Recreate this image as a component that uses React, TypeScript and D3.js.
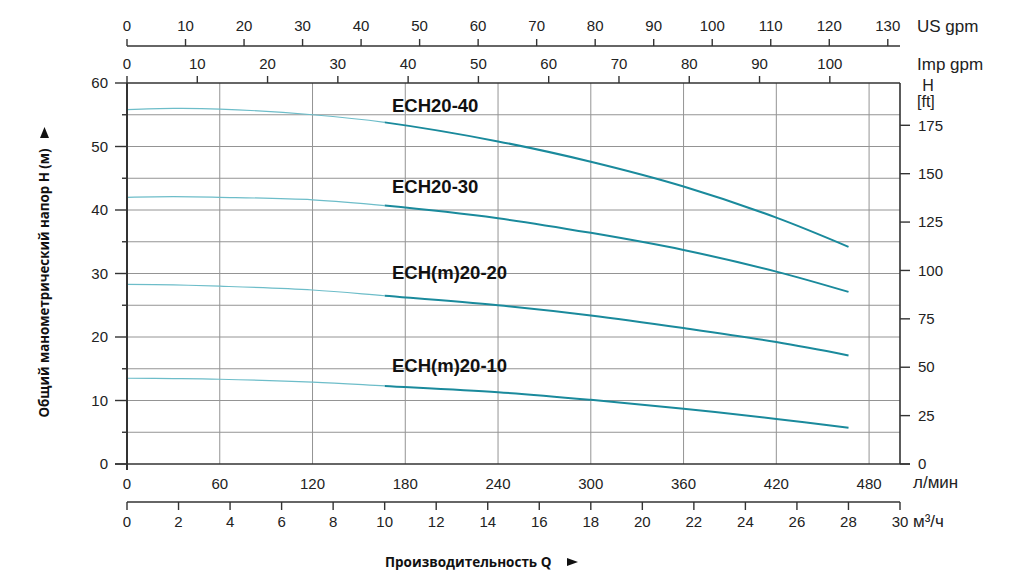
import React from "react";
import * as d3 from "d3";

// Flow (l/min) sample points used for all curves
const flowLpm = [0, 30, 60, 120, 166.7, 240, 300, 360, 420, 466.7];

const curveNames = ["ECH20-40", "ECH20-30", "ECH(m)20-20", "ECH(m)20-10"];
const headECH20_40 = [55.8, 56.0, 55.9, 55.0, 53.8, 50.8, 47.6, 43.7, 38.8, 34.2];
const headECH20_30 = [42.0, 42.1, 42.0, 41.6, 40.7, 38.7, 36.4, 33.7, 30.3, 27.1];
const headECHm20_20 = [28.3, 28.2, 28.0, 27.4, 26.5, 25.0, 23.4, 21.4, 19.2, 17.1];
const headECHm20_10 = [13.5, 13.45, 13.35, 12.9, 12.3, 11.3, 10.1, 8.7, 7.1, 5.7];
const curveHeads = [headECH20_40, headECH20_30, headECHm20_20, headECHm20_10];
const labelHeads = [55.5, 42.6, 29.1, 14.5];

const lpmTicks = [0, 60, 120, 180, 240, 300, 360, 420, 480];
const m3hTicks = [0, 2, 4, 6, 8, 10, 12, 14, 16, 18, 20, 22, 24, 26, 28, 30];
const usGpmTicks = [0, 10, 20, 30, 40, 50, 60, 70, 80, 90, 100, 110, 120, 130];
const impGpmTicks = [0, 10, 20, 30, 40, 50, 60, 70, 80, 90, 100];
const headTicks = [0, 10, 20, 30, 40, 50, 60];
const headMinorTicks = [5, 15, 25, 35, 45, 55];
const ftTicks = [0, 25, 50, 75, 100, 125, 150, 175];

const splitLpm = 166.7;

export default function App() {
  const W = 1024, H = 578;
  const x = d3.scaleLinear().domain([0, 500]).range([127, 900]);
  const y = d3.scaleLinear().domain([0, 60]).range([464, 83]);
  const xUS = (g: number) => x(g * 3.78541);
  const xImp = (g: number) => x(g * 4.54609);
  const xM3h = (q: number) => x((q * 1000) / 60);
  const yFt = (f: number) => y(f * 0.3048);

  const line = d3
    .line<[number, number]>()
    .x((d) => x(d[0]))
    .y((d) => y(d[1]))
    .curve(d3.curveCatmullRom.alpha(0.5));

  const tickFont = "'Liberation Sans', Arial, sans-serif";
  const titleFont = "'Open Sans', 'Noto Sans', sans-serif";
  const axisColor = "#333";
  const gridColor = "#949494";
  const usY = 46;
  const m3Y = 502;
  const splitX = x(splitLpm);

  return (
    <svg width={W} height={H} style={{ display: "block", position: "absolute", left: 0, top: 0 }}>
      <rect x={0} y={0} width={W} height={H} fill="#fff" />
      <defs>
        <clipPath id="thinClip">
          <rect x={0} y={0} width={splitX} height={H} />
        </clipPath>
        <clipPath id="thickClip">
          <rect x={splitX} y={0} width={W - splitX} height={H} />
        </clipPath>
      </defs>

      {/* grid */}
      {lpmTicks.filter((t) => t > 0).map((t) => (
        <line key={"vg" + t} x1={x(t)} x2={x(t)} y1={y(60)} y2={y(0)} stroke={gridColor} strokeWidth={1} />
      ))}
      {[...headTicks, ...headMinorTicks].filter((t) => t > 0 && t < 60).map((t) => (
        <line key={"hg" + t} x1={x(0)} x2={x(500)} y1={y(t)} y2={y(t)} stroke={gridColor} strokeWidth={1} />
      ))}

      {/* curves */}
      {curveHeads.map((hs, i) => {
        const pts = flowLpm.map((q, j) => [q, hs[j]] as [number, number]);
        const d = line(pts) || "";
        return (
          <g key={"c" + i}>
            <path d={d} fill="none" stroke="#6dbdc9" strokeWidth={1.2} clipPath="url(#thinClip)" />
            <path d={d} fill="none" stroke="#1a8a9c" strokeWidth={2} clipPath="url(#thickClip)" />
            <text x={392} y={y(labelHeads[i])} fontFamily={tickFont} fontWeight="bold" fontSize={18.5} fill="#111">
              {curveNames[i]}
            </text>
          </g>
        );
      })}

      {/* plot frame */}
      <line x1={x(0)} x2={x(0)} y1={y(60)} y2={470} stroke={axisColor} strokeWidth={2} />
      <line x1={115} x2={910} y1={y(0)} y2={y(0)} stroke={axisColor} strokeWidth={1.6} />
      <line x1={x(0)} x2={x(500)} y1={y(60)} y2={y(60)} stroke={axisColor} strokeWidth={1.6} />
      <line x1={x(500)} x2={x(500)} y1={y(60)} y2={y(0)} stroke={axisColor} strokeWidth={1.6} />

      {/* left axis (m) */}
      {headTicks.map((t) => (
        <g key={"lt" + t}>
          <line x1={115} x2={x(0)} y1={y(t)} y2={y(t)} stroke={axisColor} strokeWidth={1.4} />
          <text x={108} y={y(t)} dy="0.35em" textAnchor="end" fontFamily={tickFont} fontSize={15} fill="#222">
            {t}
          </text>
        </g>
      ))}
      {headMinorTicks.map((t) => (
        <line key={"lm" + t} x1={122} x2={x(0)} y1={y(t)} y2={y(t)} stroke={axisColor} strokeWidth={1.4} />
      ))}

      {/* right axis (ft) */}
      {ftTicks.map((t) => (
        <g key={"rt" + t}>
          <line x1={x(500)} x2={910} y1={yFt(t)} y2={yFt(t)} stroke={axisColor} strokeWidth={1.4} />
          <text x={918} y={yFt(t)} dy="0.35em" fontFamily={tickFont} fontSize={15} fill="#222">
            {t}
          </text>
        </g>
      ))}
      <text x={928} y={91} textAnchor="middle" fontFamily={tickFont} fontSize={16} fill="#222">H</text>
      <text x={917} y={107} fontFamily={tickFont} fontSize={16} fill="#222">[ft]</text>

      {/* Imp gpm axis (top of plot) */}
      {impGpmTicks.map((t) => (
        <g key={"imp" + t}>
          <line x1={xImp(t)} x2={xImp(t)} y1={y(60)} y2={y(60) - 7} stroke={axisColor} strokeWidth={1.4} />
          <text x={xImp(t)} y={69} textAnchor="middle" fontFamily={tickFont} fontSize={15} fill="#222">
            {t}
          </text>
        </g>
      ))}
      <text x={917} y={70} fontFamily={tickFont} fontSize={17} fill="#222">Imp gpm</text>

      {/* US gpm axis */}
      <line x1={x(0)} x2={x(500)} y1={usY} y2={usY} stroke={axisColor} strokeWidth={1.6} />
      {usGpmTicks.map((t) => (
        <g key={"us" + t}>
          <line x1={xUS(t)} x2={xUS(t)} y1={usY} y2={usY - 7} stroke={axisColor} strokeWidth={1.4} />
          <text x={xUS(t)} y={31} textAnchor="middle" fontFamily={tickFont} fontSize={15} fill="#222">
            {t}
          </text>
        </g>
      ))}
      <text x={917} y={32} fontFamily={tickFont} fontSize={17} fill="#222">US gpm</text>

      {/* l/min labels */}
      {lpmTicks.map((t) => (
        <text key={"lpm" + t} x={x(t)} y={489} textAnchor="middle" fontFamily={tickFont} fontSize={15} fill="#222">
          {t}
        </text>
      ))}
      <text x={913} y={488} fontFamily={tickFont} fontSize={17} fill="#222">л/мин</text>

      {/* m3/h axis */}
      <line x1={x(0)} x2={xM3h(30)} y1={m3Y} y2={m3Y} stroke={axisColor} strokeWidth={1.6} />
      {m3hTicks.map((t) => (
        <g key={"m3" + t}>
          <line x1={xM3h(t)} x2={xM3h(t)} y1={m3Y} y2={m3Y + 8} stroke={axisColor} strokeWidth={1.4} />
          <text x={xM3h(t)} y={527} textAnchor="middle" fontFamily={tickFont} fontSize={15} fill="#222">
            {t}
          </text>
        </g>
      ))}
      <text x={913} y={527} fontFamily={tickFont} fontSize={17} fill="#222">м³/ч</text>

      {/* axis titles */}
      <text x={385} y={567} fontFamily={titleFont} fontWeight="bold" fontSize={13.5} fill="#111">
        Производительность Q
      </text>
      <path d="M567,558 L578,562 L567,566 Z" fill="#111" />

      <text
        transform="translate(49,283) rotate(-90)"
        textAnchor="middle"
        fontFamily={titleFont}
        fontWeight="bold"
        fontSize={13.3}
        fill="#111"
      >
        Общий манометрический напор H (м)
      </text>
      <path d="M40,138 L44.5,127 L49,138 Z" fill="#111" />
    </svg>
  );
}
